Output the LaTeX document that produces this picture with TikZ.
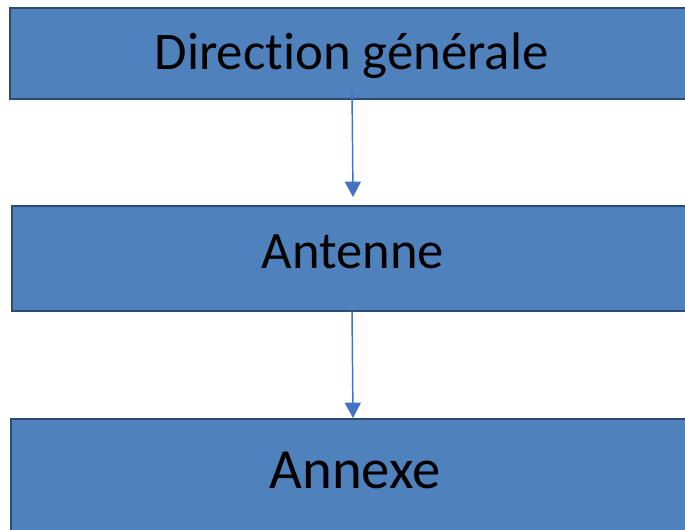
\documentclass[tikz,border=0pt]{standalone}
\usepackage{fontspec}
\setmainfont[Ligatures={NoCommon}]{Carlito}
\usetikzlibrary{arrows.meta}
\definecolor{boxfill}{HTML}{4F81BD}
\definecolor{boxline}{HTML}{2C4A72}
\definecolor{arrowblue}{HTML}{4472C4}
\begin{document}
\begin{tikzpicture}[x=0.75pt,y=-0.75pt,
  box/.style={draw=boxline,fill=boxfill,line width=2.2pt,rectangle,inner sep=0pt},
  lbl/.style={anchor=base,inner sep=0pt,text=black},
  conn/.style={draw=arrowblue,line width=1.1pt,-{Triangle[width=12pt,length=11.5pt]}}]
\useasboundingbox (0,0) rectangle (685,529);
% three stacked boxes running off the right edge
\node[box,minimum width=684*0.75pt,minimum height=91*0.75pt] (dg) at (352,53.5) {};
\node[box,minimum width=682*0.75pt,minimum height=105*0.75pt] (ant) at (353,258.5) {};
\node[box,minimum width=688*0.75pt,minimum height=114*0.75pt] (anx) at (355,476) {};
% labels
\node[lbl,font=\fontsize{39.6}{47}\selectfont] (tdg) at (351.5,69) {Direction générale};
\node[lbl,font=\fontsize{39.4}{47}\selectfont] (tant) at (353,268) {Antenne};
\node[lbl,font=\fontsize{42.5}{51}\selectfont] (tanx) at (355,488) {Annexe};
% connectors
\coordinate (a1s) at (352,90);
\coordinate (a1e) at (353,197);
\coordinate (a2s) at (352,311);
\coordinate (a2e) at (353,418);
\draw[conn] (a1s) -- (a1e);
\draw[conn] (a2s) -- (a2e);
\end{tikzpicture}
\end{document}
